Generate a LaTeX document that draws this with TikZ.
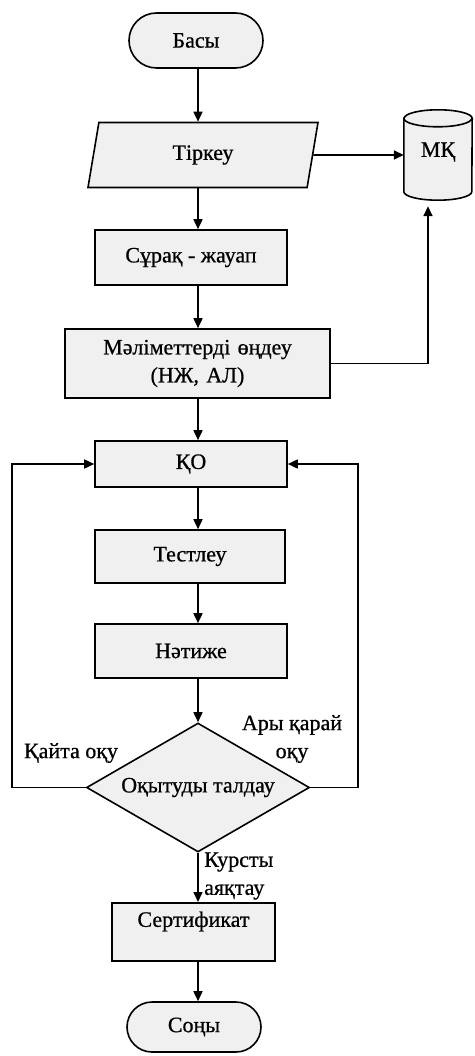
\documentclass[tikz,border=0pt]{standalone}
\usepackage{fontspec}
\setmainfont{Liberation Serif}[FakeBold=0.7]
\usetikzlibrary{arrows.meta,shapes.geometric,shapes.misc,calc}
\begin{document}
\begin{tikzpicture}[x=1pt,y=-1pt,
  every node/.style={font=\fontsize{22}{28}\selectfont},
  base/.style={draw=black, line width=1.6pt, fill=black!6, inner sep=2pt, align=center},
  proc/.style={base, rectangle, minimum width=#1},
  term/.style={base, rounded rectangle, minimum width=138pt, minimum height=55pt},
  io/.style={base, trapezium, trapezium left angle=65, trapezium right angle=115, trapezium stretches body, minimum width=230pt, minimum height=65pt},
  decision/.style={base, diamond, aspect=1.73, inner sep=0pt, minimum width=223pt, minimum height=129pt},
  lbl/.style={inner sep=0pt, align=center},
  arr/.style={line width=1.6pt, -{Triangle[length=10pt,width=9pt]}},
]
\useasboundingbox (0,0) rectangle (474,1056);

\coordinate (ax) at (198,0);
\coordinate (lx) at (12,600);
\coordinate (rx) at (358,600);

\node[term] (basy) at (196,40.5) {Басы};
\node[io] (tirkeu) at (203,155) {Тіркеу};
\node[draw=none, minimum width=68pt, minimum height=90pt, inner sep=0pt] (mk) at (438,155) {};
\draw[line width=1.6pt, fill=black!6]
  ([yshift=-8.5pt]mk.north west) -- ([yshift=8.5pt]mk.south west)
  arc[start angle=180, end angle=360, x radius=34pt, y radius=8.5pt]
  -- ([yshift=-8.5pt]mk.north east)
  arc[start angle=0, end angle=180, x radius=34pt, y radius=8.5pt] -- cycle;
\draw[line width=1.6pt] ([yshift=-8.5pt]mk.north west)
  arc[start angle=180, end angle=360, x radius=34pt, y radius=8.5pt];
\node[inner sep=0pt] at ([yshift=3pt]mk.center) {МҚ};

\node[proc=192pt, minimum height=55pt] (surak) at (191,257.5) {Сұрақ - жауап};
\node[proc=265pt, minimum height=69pt, text width=255pt] (mal) at (197.5,363.5) {Мәліметтерді өңдеу\\(НЖ, АЛ)};
\node[proc=192pt, minimum height=46pt] (ko) at (191,464) {ҚО};
\node[proc=190pt, minimum height=53pt] (test) at (190,556.5) {Тестлеу};
\node[proc=192pt, minimum height=54pt] (nat) at (191,651) {Нәтиже};
\node[decision] (dia) at (198,787.5) {Оқытуды талдау};
\node[proc=163pt, minimum height=58pt, inner sep=3pt, text height=21pt, text depth=31pt, anchor=north] (sert) at (193.5,902) {Сертификат};
\node[term, minimum height=50pt] (son) at (194,1027) {Соңы};

\node[lbl] (l1) at (71,753) {Қайта оқу};
\node[lbl] (l2) at (292,739) {Ары қарай\\оқу};
\node[lbl, align=left, anchor=west] (l3) at (204,876) {Курсты\\аяқтау};

\draw[arr] (basy.south -| ax) -- (tirkeu.north -| ax);
\draw[arr] (tirkeu.east) -- (mk.west);
\draw[arr] (tirkeu.south -| ax) -- (surak.north -| ax);
\draw[arr] (surak.south -| ax) -- (mal.north -| ax);
\draw[arr] (mal.east) -| ([xshift=-10pt,yshift=-6pt]mk.south);
\draw[arr] (mal.south -| ax) -- (ko.north -| ax);
\draw[arr] (ko.south -| ax) -- (test.north -| ax);
\draw[arr] (test.south -| ax) -- (nat.north -| ax);
\draw[arr] (nat.south -| ax) -- (dia.north);
\draw[arr] (dia.west) -| (lx) |- (ko.west);
\draw[arr] (dia.east) -| (rx) |- (ko.east);
\draw[arr] (dia.south) -- (sert.north -| dia.south);
\draw[arr] (sert.south -| ax) -- (son.north -| ax);
\end{tikzpicture}
\end{document}
